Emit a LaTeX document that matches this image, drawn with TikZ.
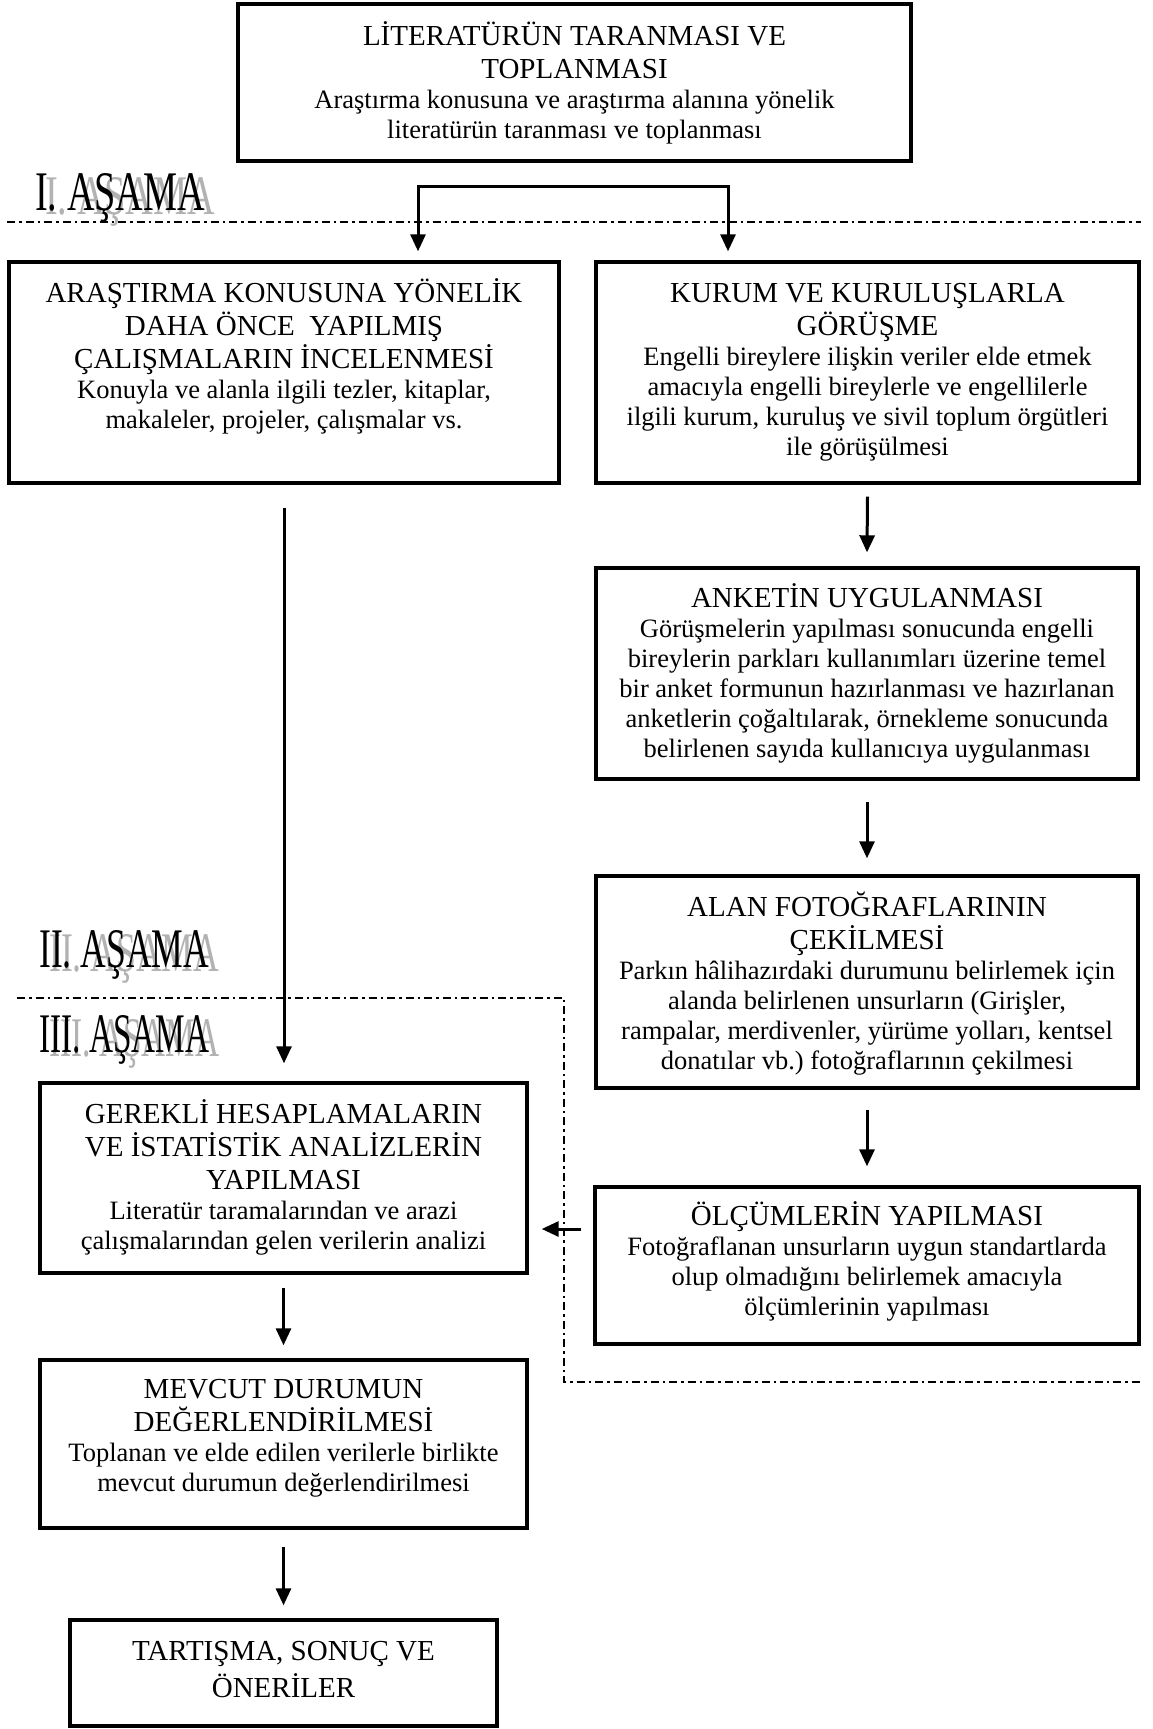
\documentclass[tikz,border=0pt]{standalone}
\usepackage{fontspec}
\setmainfont{Liberation Serif}
\usepackage{graphicx}
\usetikzlibrary{arrows.meta,calc}
\newcommand\fixspace{\spaceskip=0.25em\relax\xspaceskip=0.25em\relax}
\newcommand\TTf{\fontsize{29}{33}\selectfont\fixspace}
\newcommand\TTg{\fontsize{29}{37}\selectfont\fixspace}
\newcommand\BBf{\fontsize{26.5}{30}\selectfont\fixspace}
\newcommand\fstrut{\rule{0pt}{28pt}}
\newcommand\stagetext[1]{\resizebox{170pt}{37pt}{#1}}
\begin{document}
\begin{tikzpicture}[x=1pt,y=-1pt,
  box/.style={draw, line width=3.4pt, inner sep=0pt, rectangle},
  txt/.style={inner sep=0pt, align=center, anchor=north},
  arr/.style={line width=3pt, -{Triangle[length=17pt,width=15pt]}},
  dd/.style={line width=1.4pt, dash pattern=on 8pt off 4pt on 2.5pt off 4pt},
  stage/.style={inner sep=0pt, anchor=base west},
  stageshadow/.style={stage, text=black!30}]

\useasboundingbox (0,0) rectangle (1152,1729);

% ---------- boxes ----------
\node[box, minimum width=673pt, minimum height=157pt] (B0) at (574.5,82.5) {};
\node[box, minimum width=550pt, minimum height=221pt] (B1) at (284,372.5) {};
\node[box, minimum width=543pt, minimum height=221pt] (B2) at (867.5,372.5) {};
\node[box, minimum width=542pt, minimum height=211pt] (B3) at (867,673.5) {};
\node[box, minimum width=542pt, minimum height=212pt] (B4) at (867,982) {};
\node[box, minimum width=544pt, minimum height=157pt] (B5) at (867,1265.5) {};
\node[box, minimum width=487pt, minimum height=190pt] (B6) at (283.5,1178) {};
\node[box, minimum width=487pt, minimum height=168pt] (B7) at (283.5,1444) {};
\node[box, minimum width=427pt, minimum height=106pt] (B8) at (283.5,1673) {};

% ---------- texts ----------
\node[txt, text width=660pt] (T0) at (574.5,17) {\TTf\fstrut LİTERATÜRÜN TARANMASI VE\\TOPLANMASI\par
\BBf Araştırma konusuna ve araştırma alanına yönelik\\literatürün taranması ve toplanması\par};

\node[txt, text width=540pt] (T1) at (284,274) {\TTf\fstrut ARAŞTIRMA KONUSUNA YÖNELİK\\DAHA ÖNCE\ \ YAPILMIŞ\\ÇALIŞMALARIN İNCELENMESİ\par
\BBf Konuyla ve alanla ilgili tezler, kitaplar,\\makaleler, projeler, çalışmalar vs.\par};

\node[txt, text width=535pt] (T2) at (867.5,274) {\TTf\fstrut KURUM VE KURULUŞLARLA\\GÖRÜŞME\par
\BBf Engelli bireylere ilişkin veriler elde etmek\\amacıyla engelli bireylerle ve engellilerle\\ilgili kurum, kuruluş ve sivil toplum örgütleri\\ile görüşülmesi\par};

\node[txt, text width=535pt] (T3) at (867,579) {\TTf\fstrut ANKETİN UYGULANMASI\par
\BBf Görüşmelerin yapılması sonucunda engelli\\bireylerin parkları kullanımları üzerine temel\\bir anket formunun hazırlanması ve hazırlanan\\anketlerin çoğaltılarak, örnekleme sonucunda\\belirlenen sayıda kullanıcıya uygulanması\par};

\node[txt, text width=535pt] (T4) at (867,888) {\TTf\fstrut ALAN FOTOĞRAFLARININ\\ÇEKİLMESİ\par
\BBf Parkın hâlihazırdaki durumunu belirlemek için\\alanda belirlenen unsurların (Girişler,\\rampalar, merdivenler, yürüme yolları, kentsel\\donatılar vb.) fotoğraflarının çekilmesi\par};

\node[txt, text width=535pt] (T5) at (867,1197) {\TTf\fstrut ÖLÇÜMLERİN YAPILMASI\par
\BBf Fotoğraflanan unsurların uygun standartlarda\\olup olmadığını belirlemek amacıyla\\ölçümlerinin yapılması\par};

\node[txt, text width=480pt] (T6) at (283.5,1095) {\TTf\fstrut GEREKLİ HESAPLAMALARIN\\VE İSTATİSTİK ANALİZLERİN\\YAPILMASI\par
\BBf Literatür taramalarından ve arazi\\çalışmalarından gelen verilerin analizi\par};

\node[txt, text width=480pt] (T7) at (283.5,1370) {\TTf\fstrut MEVCUT DURUMUN\\DEĞERLENDİRİLMESİ\par
\BBf Toplanan ve elde edilen verilerle birlikte\\mevcut durumun değerlendirilmesi\par};

\node[txt, text width=420pt] (T8) at (283.5,1632) {\TTg\fstrut TARTIŞMA, SONUÇ VE\\ÖNERİLER\par};

% ---------- stage labels ----------
\node[stageshadow] (S1s) at (45,214) {\stagetext{I. AŞAMA}};
\node[stage] (S1) at (35,210) {\stagetext{I. AŞAMA}};
\node[stageshadow] (S2s) at (49,971) {\stagetext{II. AŞAMA}};
\node[stage] (S2) at (39,967) {\stagetext{II. AŞAMA}};
\node[stageshadow] (S3s) at (49,1056) {\stagetext{III. AŞAMA}};
\node[stage] (S3) at (39,1052) {\stagetext{III. AŞAMA}};

% ---------- stage separators ----------
\draw[dd] (7,222) -- (1141,222);
\draw[dd] (17,998) -- (564,998) -- (564,1382) -- (1141,1382);

% ---------- connectors ----------
\coordinate (brM) at (573,186);
\coordinate (brL) at (418,186);
\coordinate (brR) at (728,186);
\draw[arr] (brM) -- (brL) -- ([yshift=9pt]B1.north -| brL);
\draw[arr] (brM) -- (brR) -- ([yshift=9pt]B2.north -| brR);

\draw[arr] ([yshift=-23pt]B1.south) -- ([yshift=18pt]B6.north -| B1.south);
\draw[arr] ([yshift=-12pt]B2.south) -- ([yshift=14pt]B3.north);
\draw[arr] ([yshift=-21pt]B3.south) -- ([yshift=16pt]B4.north);
\draw[arr] ([yshift=-20pt]B4.south) -- ([yshift=19pt]B5.north);
\coordinate (lvl) at (0,1229);
\draw[arr] ([xshift=-12pt]B5.west |- lvl) -- ([xshift=13pt]B6.east |- lvl);
\draw[arr] ([yshift=-13pt]B6.south) -- ([yshift=13pt]B7.north);
\draw[arr] ([yshift=-17pt]B7.south) -- ([yshift=13pt]B8.north);
\end{tikzpicture}
\end{document}
